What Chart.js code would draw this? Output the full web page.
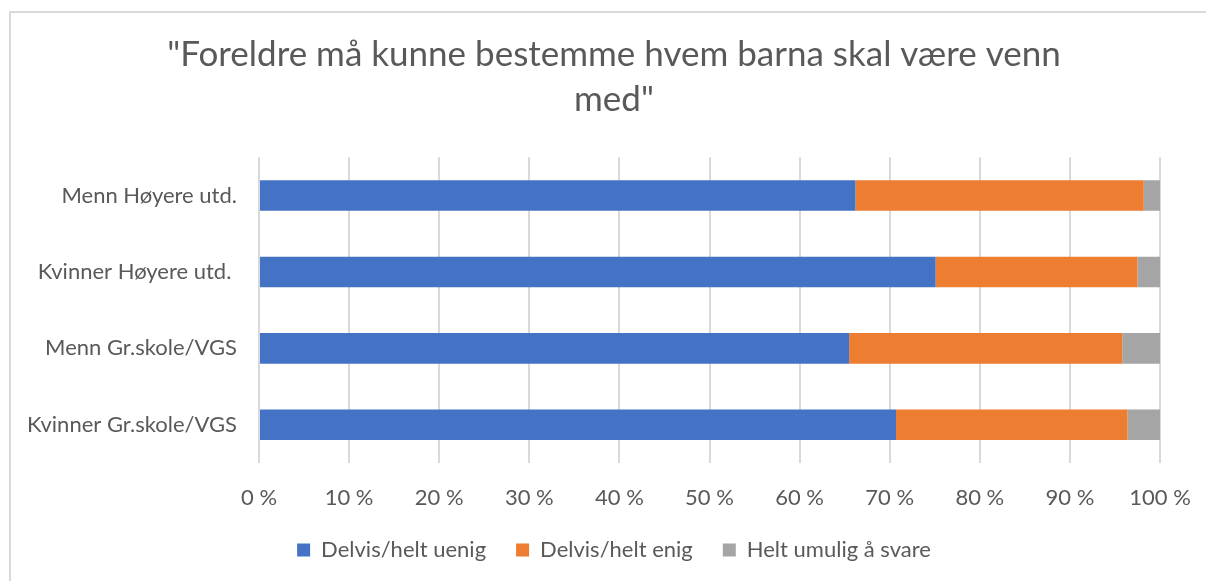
<!DOCTYPE html>
<html>
<head>
<meta charset="utf-8">
<script src="https://cdn.jsdelivr.net/npm/chart.js@4.4.0/dist/chart.umd.min.js"></script>
<style>
  html, body { margin: 0; padding: 0; background: #fff; }
  #wrap { position: relative; width: 1206px; height: 581px; overflow: hidden; }
  #frame { position: absolute; left: 9px; top: 11px; width: 1300px; height: 700px;
           border-left: 2px solid #d9d9d9; border-top: 2px solid #d9d9d9; }
  canvas { position: absolute; left: 0; top: 0; }
</style>
</head>
<body>
<div id="wrap">
  <div id="frame"></div>
  <canvas id="chart" width="1206" height="581"></canvas>
</div>
<script>
// kategorier, ovenfra og ned
const categories = ['Menn Høyere utd.', 'Kvinner Høyere utd. ', 'Menn Gr.skole/VGS', 'Kvinner Gr.skole/VGS'];

// andeler i prosent
const uenig = [66.2, 75.1, 65.5, 70.7];
const enig = [32.0, 22.4, 30.3, 25.7];
const vetIkke = [1.8, 2.5, 4.2, 3.6];

const seriesNames = ['Delvis/helt uenig', 'Delvis/helt enig', 'Helt umulig å svare'];
const titleLines = ['"Foreldre må kunne bestemme hvem barna skal være venn', 'med"'];

const FONT = 'Lato, "Open Sans", sans-serif';
const TEXT = '#595959';

// aksetekstene skal kunne gå litt utenfor aksens boks uten å bli klippet
const unclipLabels = {
    id: 'unclipLabels',
    afterLayout(chart) {
        chart.scales.y.left = 0;
        chart.scales.x.bottom = chart.height;
    }
};

const ctx = document.getElementById('chart').getContext('2d');
new Chart(ctx, {
    type: 'bar',
    data: {
        labels: categories,
        datasets: [
            { label: seriesNames[0], data: uenig, backgroundColor: '#4472C4' },
            { label: seriesNames[1], data: enig, backgroundColor: '#ED7D31' },
            { label: seriesNames[2], data: vetIkke, backgroundColor: '#A5A5A5' }
        ]
    },
    plugins: [unclipLabels],
    options: {
        indexAxis: 'y',
        responsive: false,
        animation: false,
        devicePixelRatio: 1,
        datasets: { bar: { barPercentage: 0.4, categoryPercentage: 1, borderWidth: 0 } },
        layout: { padding: { left: 68, right: 46, top: 32, bottom: 10 } },
        plugins: {
            title: {
                display: true,
                text: titleLines,
                color: TEXT,
                font: { family: FONT, size: 35, weight: 'normal', lineHeight: 1.29 },
                padding: { top: 0, bottom: 35 }
            },
            legend: {
                position: 'bottom',
                labels: {
                    color: TEXT,
                    font: { family: FONT, size: 22 },
                    boxWidth: 13,
                    boxHeight: 13,
                    padding: 30
                }
            },
            tooltip: { enabled: false }
        },
        scales: {
            x: {
                stacked: true,
                min: 0,
                max: 100,
                ticks: {
                    stepSize: 10,
                    color: TEXT,
                    font: { family: FONT, size: 22 },
                    padding: 22,
                    callback: v => v + ' %'
                },
                grid: { color: '#d9d9d9', lineWidth: 2, drawTicks: false },
                border: { display: false },
                afterFit: s => { s.height = 46; s.paddingLeft = 0; s.paddingRight = 0; }
            },
            y: {
                stacked: true,
                ticks: {
                    color: TEXT,
                    font: { family: FONT, size: 22 },
                    padding: 22
                },
                grid: { display: false, drawTicks: false },
                border: { display: false },
                afterFit: s => { s.width = 191; }
            }
        }
    }
});
</script>
</body>
</html>
